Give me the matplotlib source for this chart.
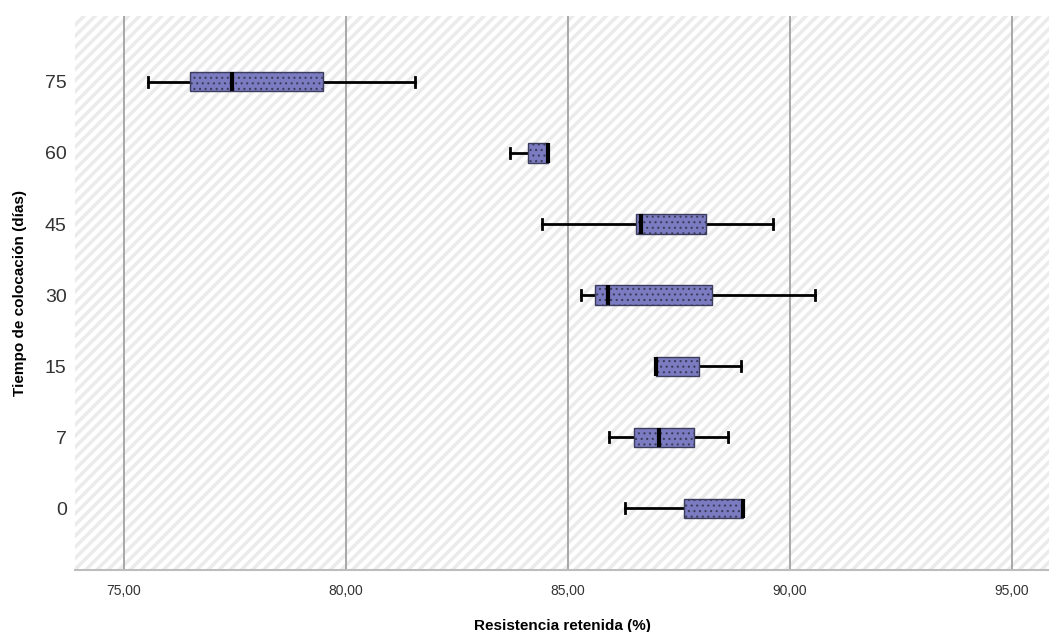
import matplotlib
matplotlib.use('Agg')
import matplotlib.pyplot as plt
from matplotlib.patches import Rectangle
from matplotlib.ticker import FuncFormatter

plt.rcParams['font.family'] = ['Liberation Sans', 'DejaVu Sans']

# categories bottom -> top
dias = ['0', '7', '15', '30', '45', '60', '75']
whislo = [86.30, 85.93, 86.98, 85.29, 84.42, 83.69, 75.54]
q1 = [87.61, 86.49, 86.98, 85.61, 86.53, 84.11, 76.49]
med = [88.95, 87.05, 86.98, 85.91, 86.64, 84.56, 77.43]
q3 = [88.95, 87.84, 87.96, 88.24, 88.12, 84.56, 79.48]
whishi = [88.95, 88.61, 88.91, 90.56, 89.62, 84.56, 81.55]
xticks = [75, 80, 85, 90, 95]

stats = []
for i in range(len(dias)):
    stats.append(dict(whislo=whislo[i], q1=q1[i], med=med[i], q3=q3[i],
                      whishi=whishi[i], fliers=[], label=dias[i]))

fig = plt.figure(figsize=(10.49, 6.32), dpi=100)
ax = fig.add_axes([0.0715, 0.098, 0.9285, 0.877])

# hatched background
bg = Rectangle((0, 0), 1, 1, transform=ax.transAxes, facecolor='white',
               edgecolor='#ebebeb', hatch='///', linewidth=0, zorder=0)
if hasattr(bg, 'set_hatch_linewidth'):
    bg.set_hatch_linewidth(2.5)
ax.add_patch(bg)

for x in xticks:
    ax.axvline(x, color='#a8a8a8', lw=1.4, zorder=1)

pos = list(range(len(dias)))
bp = ax.bxp(stats, positions=pos, vert=False, widths=0.27, patch_artist=True,
            showfliers=False, capwidths=0.14,
            boxprops=dict(facecolor='#7b7bc1', edgecolor='#3c3c5c', linewidth=1.0),
            whiskerprops=dict(color='black', linewidth=2),
            capprops=dict(color='black', linewidth=2),
            medianprops=dict(color='black', linewidth=3))
for b in bp['boxes']:
    b.set_zorder(3)
    b.set_hatch('...')
    if hasattr(b, 'set_hatch_linewidth'):
        b.set_hatch_linewidth(0.8)
for m in bp['medians']:
    m.set_zorder(4)

ax.set_xlim(73.9, 95.84)
ax.set_ylim(-0.87, 6.93)
ax.set_xticks(xticks)
ax.xaxis.set_major_formatter(FuncFormatter(lambda v, p: ('%.2f' % v).replace('.', ',')))
ax.set_yticks(pos)
ax.set_yticklabels(dias)
ax.tick_params(axis='x', length=0, labelsize=10, colors='#333333', pad=10)
ax.tick_params(axis='y', length=0, labelsize=14, colors='#333333', pad=6)

for s in ['top', 'right', 'left']:
    ax.spines[s].set_visible(False)
ax.spines['bottom'].set_color('#bdbdbd')
ax.spines['bottom'].set_linewidth(1.5)

ax.set_xlabel('Resistencia retenida (%)', fontsize=11, fontweight='bold', labelpad=15)
ax.set_ylabel('Tiempo de colocación (días)', fontsize=11, fontweight='bold', labelpad=13)

fig.savefig('out.png', dpi=100)
